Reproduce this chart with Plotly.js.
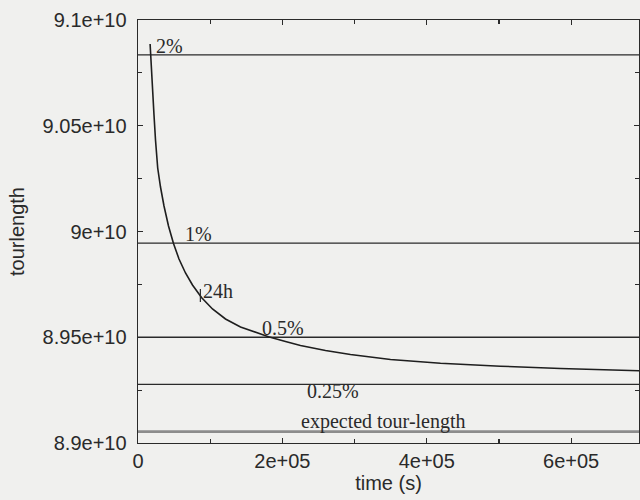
<!DOCTYPE html>
<html>
<head>
<meta charset="utf-8">
<script src="https://cdn.plot.ly/plotly-3.0.1.min.js"></script>
<style>html,body{margin:0;padding:0;background:#f0f0ee;}#chart{width:640px;height:500px;}</style>
</head>
<body>
<div id="chart"></div>
<script>
// ---- data ----
const timeS = [16760, 18144, 20083, 22161, 24238, 27285, 31163, 36011, 42244, 49169,
               56787, 65789, 75485, 87950, 103186, 121191, 141967, 162742, 180748, 204294,
               225069, 259695, 294321, 349723, 418975, 502077, 585180, 695983];
const tourLength = [9.08865e10, 9.07872e10, 9.06690e10, 9.05508e10, 9.04326e10, 9.03002e10, 9.02104e10,
                    9.01206e10, 9.00260e10, 8.99433e10, 8.98700e10, 8.98038e10, 8.97470e10, 8.96879e10,
                    8.96336e10, 8.95863e10, 8.95485e10, 8.95225e10, 8.95026e10, 8.94799e10, 8.94610e10,
                    8.94374e10, 8.94184e10, 8.93948e10, 8.93773e10, 8.93631e10, 8.93522e10, 8.93414e10];
const levelLabels = ['2%', '1%', '0.5%', '0.25%'];
const levelValues = [9.0835e10, 8.9945e10, 8.9500e10, 8.9277e10];
const expectedLabel = 'expected tour-length';
const expectedValue = 8.9054e10;
const marker24hTime = 86400;
const marker24hLabel = '24h';
const xTickVals = [0, 2e5, 4e5, 6e5];
const xTickText = ['0', '2e+05', '4e+05', '6e+05'];
const yTickVals = [8.9e10, 8.95e10, 9e10, 9.05e10, 9.1e10];
const yTickText = ['8.9e+10', '8.95e+10', '9e+10', '9.05e+10', '9.1e+10'];
const xRange = [0, 6.94e5];
const yRange = [8.9e10, 9.1e10];

// ---- styling / layout ----
const ink = '#2a2a2a';
const serif = {family: 'Liberation Serif, Times New Roman, serif', size: 20, color: ink};
const sans = {family: 'Liberation Sans, Arial, sans-serif', size: 20, color: ink};

const traces = [];
levelValues.forEach((v) => {
  traces.push({x: xRange, y: [v, v], mode: 'lines', line: {color: ink, width: 1.4},
               hoverinfo: 'skip', showlegend: false});
});
traces.push({x: xRange, y: [expectedValue, expectedValue], mode: 'lines',
             line: {color: '#8c8c8c', width: 2.6}, hoverinfo: 'skip', showlegend: false});
traces.push({x: timeS, y: tourLength, mode: 'lines', line: {color: '#1e1e1e', width: 1.6},
             hoverinfo: 'skip', showlegend: false});

// label placement (time position, anchor side, pixel shift)
const labelX = [22160, 62330, 168980, 231300];
const labelSide = ['bottom', 'bottom', 'bottom', 'top'];
const labelShift = [-4, -4, -4, 6];
const annotations = levelLabels.map((t, i) => ({
  x: labelX[i], y: levelValues[i], xref: 'x', yref: 'y', text: t, showarrow: false,
  xanchor: 'left', yanchor: labelSide[i], yshift: labelShift[i], font: serif
}));
annotations.push({x: 223000, y: expectedValue, xref: 'x', yref: 'y', text: expectedLabel, showarrow: false,
  xanchor: 'left', yanchor: 'bottom', yshift: -3, font: serif});
const idx24 = timeS.findIndex(t => t >= marker24hTime);
const y24 = tourLength[idx24 - 1] + (tourLength[idx24] - tourLength[idx24 - 1]) *
            (marker24hTime - timeS[idx24 - 1]) / (timeS[idx24] - timeS[idx24 - 1]);
annotations.push({x: marker24hTime, y: y24, xref: 'x', yref: 'y', text: marker24hLabel, showarrow: false,
  xanchor: 'left', yanchor: 'middle', xshift: 1, yshift: 5, font: serif});

const shapes = [{
  type: 'line', xref: 'x', yref: 'y', x0: marker24hTime, x1: marker24hTime,
  ysizemode: 'pixel', yanchor: y24, y0: -6, y1: 7,
  line: {color: ink, width: 1.2}
}];

const axisCommon = {
  showgrid: false, zeroline: false, showline: true, linecolor: ink, linewidth: 1.4,
  mirror: 'allticks', ticks: 'inside', ticklen: 5, tickwidth: 1.2, tickcolor: ink,
  tickfont: sans, tickmode: 'array'
};

const layout = {
  width: 640, height: 500,
  margin: {l: 138, r: 1, t: 20, b: 57},
  paper_bgcolor: '#f0f0ee', plot_bgcolor: '#f0f0ee',
  xaxis: Object.assign({}, axisCommon, {
    range: xRange, tickvals: xTickVals, ticktext: xTickText,
    minor: {tickvals: [1e5, 3e5, 5e5], ticks: 'inside', ticklen: 4, tickcolor: ink},
    title: {text: 'time (s)', font: sans, standoff: 1}
  }),
  yaxis: Object.assign({}, axisCommon, {
    range: yRange, tickvals: yTickVals, ticktext: yTickText,
    minor: {tickvals: [8.925e10, 8.975e10, 9.025e10, 9.075e10], ticks: 'inside', ticklen: 4, tickcolor: ink},
    ticklabelstandoff: 6,
    title: {text: 'tourlength', font: sans, standoff: 12}
  }),
  shapes: shapes,
  annotations: annotations
};

Plotly.newPlot('chart', traces, layout, {displayModeBar: false, staticPlot: true});
</script>
</body>
</html>
